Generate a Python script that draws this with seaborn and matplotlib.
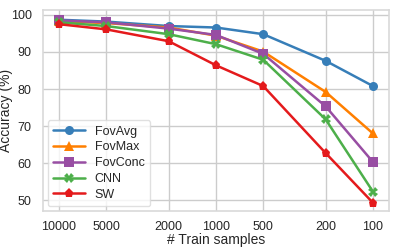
import pandas as pd
import matplotlib
matplotlib.use("Agg")
import matplotlib.pyplot as plt
import seaborn as sns

train_samples = [10000, 5000, 2000, 1000, 500, 200, 100]
tick_labels = ["10000", "5000", "2000", "1000", "500", "200", "100"]

fov_avg = [98.7, 98.2, 97.0, 96.6, 94.8, 87.6, 80.8]
fov_max = [98.3, 97.8, 96.6, 94.4, 90.1, 79.2, 68.0]
fov_conc = [98.5, 98.0, 96.3, 94.6, 89.5, 75.3, 60.3]
cnn = [98.0, 97.0, 94.8, 92.1, 87.9, 71.8, 52.3]
sw = [97.5, 96.1, 92.9, 86.4, 80.8, 62.7, 49.3]

methods = ["FovAvg", "FovMax", "FovConc", "CNN", "SW"]
markers = ["o", "^", "s", "X", "p"]

df = pd.DataFrame({
    "samples": train_samples * 5,
    "acc": fov_avg + fov_max + fov_conc + cnn + sw,
    "method": sum([[m] * len(train_samples) for m in methods], []),
})

sns.set_theme(style="whitegrid")
plt.rcParams["font.family"] = ["Liberation Sans", "DejaVu Sans"]

fig = plt.figure(figsize=(3.99, 2.48), dpi=100)
ax = fig.add_axes([0.107, 0.148, 0.868, 0.812])

colors = sns.color_palette("Set1", 5)
palette = [colors[1], colors[4], colors[3], colors[2], colors[0]]

sns.lineplot(data=df, x="samples", y="acc", hue="method", style="method",
             markers=markers, dashes=False, palette=palette, ax=ax,
             linewidth=1.8, markersize=6.5, markeredgewidth=0)

ax.set_xscale("log")
ax.set_xlim(12700, 79)
ax.set_xticks(train_samples)
ax.set_xticklabels(tick_labels)
ax.minorticks_off()
ax.set_ylim(47.0, 101.35)
ax.set_yticks([50, 60, 70, 80, 90, 100])
ax.tick_params(labelsize=9, pad=2)
ax.tick_params(axis="x", pad=1)
ax.set_xlabel("# Train samples", fontsize=10, labelpad=0)
ax.set_ylabel("Accuracy (%)", fontsize=10)
ax.yaxis.set_label_coords(-0.085, 0.5)
for s in ax.spines.values():
    s.set_color("#d9d9d9")
    s.set_linewidth(1.2)

leg = ax.legend(loc="lower left", fontsize=9, frameon=True, handlelength=2.5,
                borderpad=0.45, labelspacing=0.3, borderaxespad=0.4)
leg.get_frame().set_edgecolor("#d9d9d9")

fig.savefig("out.png", dpi=100)
